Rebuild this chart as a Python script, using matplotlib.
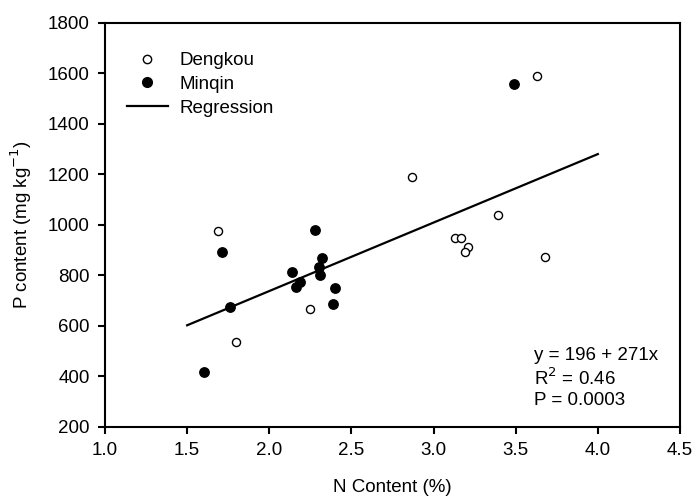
import numpy as np
import matplotlib
matplotlib.use("Agg")
import matplotlib.pyplot as plt
from matplotlib.lines import Line2D

plt.rcParams['font.family'] = ['Liberation Sans', 'DejaVu Sans']
plt.rcParams['font.size'] = 13.5

# Dengkou sites (open circles)
dengkou_n = [1.69, 1.80, 2.25, 3.13, 3.17, 3.21, 3.19, 3.39, 3.68, 2.87, 3.63]
dengkou_p = [975, 536, 667, 949, 949, 911, 892, 1038, 874, 1189, 1589]

# Minqin sites (filled circles)
minqin_n = [3.49, 1.71, 2.28, 2.32, 2.30, 2.31, 2.14, 2.19, 2.16, 2.40, 2.39, 1.76, 1.60]
minqin_p = [1557, 894, 981, 868, 834, 800, 813, 774, 754, 749, 688, 675, 416]

# regression  y = 196 + 271x
reg_coef = [271, 196]
reg_x = [1.5, 4.0]

fig = plt.figure(figsize=(6.99, 5.03), dpi=100)
ax = fig.add_axes([0.1502, 0.1511, 0.8226, 0.8038])

ax.scatter(dengkou_n, dengkou_p, s=34, facecolors='white', edgecolors='black', linewidths=1.0, zorder=3)
ax.scatter(minqin_n, minqin_p, s=46, color='black', zorder=3)
ax.plot(reg_x, np.polyval(reg_coef, reg_x), color='black', lw=1.6, zorder=2)

ax.set_xlim(1.0, 4.5)
ax.set_ylim(200, 1800)
ax.set_xticks(np.arange(1.0, 4.51, 0.5))
ax.set_yticks(np.arange(200, 1801, 200))
ax.xaxis.set_major_formatter(matplotlib.ticker.FormatStrFormatter('%.1f'))
ax.tick_params(direction='out', length=5, width=1.5, pad=6)
for sp in ax.spines.values():
    sp.set_linewidth(1.5)

ax.set_xlabel('N Content (%)', labelpad=14)
ax.set_ylabel('P content (mg kg$^{-1}$)', labelpad=10)

handles = [
    Line2D([], [], marker='o', ls='none', mfc='white', mec='black', ms=6, mew=1.0),
    Line2D([], [], marker='o', ls='none', color='black', ms=7),
    Line2D([], [], color='black', lw=1.6),
]
ax.legend(handles, ['Dengkou', 'Minqin', 'Regression'], loc='upper left',
          frameon=False, handlelength=2.2, handletextpad=0.6, labelspacing=0.36,
          borderaxespad=0, bbox_to_anchor=(0.025, 0.946))

ax.text(0.746, 0.198, 'y = 196 + 271x\nR$^2$ = 0.46\nP = 0.0003', transform=ax.transAxes,
        va='top', ha='left', linespacing=1.2)

fig.savefig('out.png', dpi=100)
